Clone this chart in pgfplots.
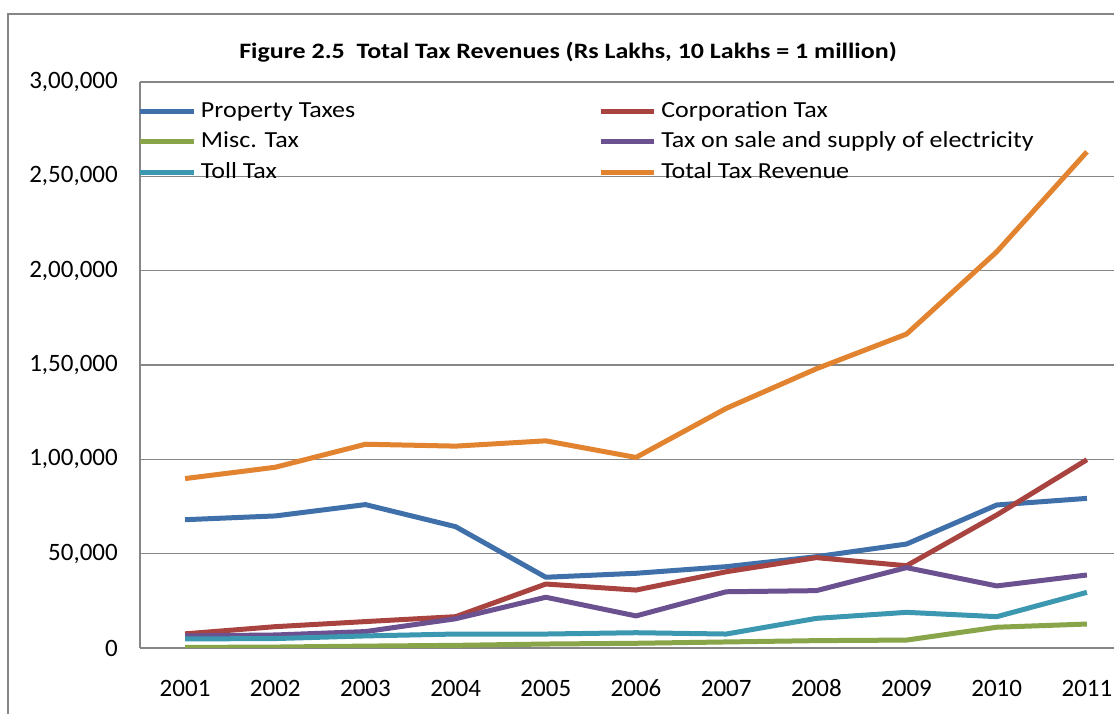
\documentclass[border=0pt]{standalone}
\usepackage{fontspec}
\setmainfont{Carlito}
\newfontfamily\titlefont[FakeStretch=1.18]{Carlito}
\newfontfamily\legfont[FakeStretch=1.13]{Carlito}
\usepackage{pgfplots}
\pgfplotsset{compat=1.18}
\definecolor{cprop}{HTML}{4070AA}
\definecolor{ccorp}{HTML}{A9433F}
\definecolor{cmisc}{HTML}{88A54A}
\definecolor{celec}{HTML}{6C5190}
\definecolor{ctoll}{HTML}{3C97B0}
\definecolor{ctot}{HTML}{E2832F}
\definecolor{cgrid}{HTML}{868686}
\begin{document}
\begin{tikzpicture}
\path[draw=cgrid, line width=2.5pt] (1114pt,700pt) -- (8pt,700pt) -- (8pt,0pt);
\node[font=\titlefont\fontsize{22}{26}\selectfont\bfseries, anchor=base, inner sep=0pt] at (568pt,655pt) {Figure 2.5\ \ Total Tax Revenues (Rs Lakhs, 10 Lakhs = 1 million)};
\begin{axis}[
  at={(140pt,66pt)}, anchor=south west,
  scale only axis, width=992pt, height=566pt,
  xmin=2000.5, xmax=2011.5, ymin=0, ymax=300000,
  axis x line=bottom, axis y line=left,
  axis line style={-, draw=cgrid, line width=1.5pt},
  x axis line style={line width=2.5pt},
  ytick={0,50000,100000,150000,200000,250000,300000},
  yticklabels={0,{50,000},{1,00,000},{1,50,000},{2,00,000},{2,50,000},{3,00,000}},
  xtick={2001,2002,2003,2004,2005,2006,2007,2008,2009,2010,2011},
  xticklabels={2001,2002,2003,2004,2005,2006,2007,2008,2009,2010,2011},
  major tick length=0pt,
  ymajorgrids, grid style={draw=cgrid, line width=1.5pt},
  tick label style={font=\fontsize{25}{29}\selectfont, inner sep=0pt},
  yticklabel style={anchor=east, xshift=-22pt},
  xticklabel style={anchor=base, yshift=-49pt},
  scaled y ticks=false,
  legend columns=2,
  legend image code/.code={\draw[#1] (0pt,0pt) -- (53pt,0pt);},
  legend style={at={(0,1)}, anchor=north west, draw=none, fill=none, inner sep=0pt, outer sep=0pt,
    font=\legfont\fontsize{23}{27}\selectfont, row sep=8.5pt, column sep=5pt,
    nodes={inner sep=0pt, anchor=west, text height=17pt, text depth=5pt},
    /tikz/column 2/.style={column sep=243pt}, yshift=-18.5pt, xshift=-2pt},
  every axis plot/.append style={line width=5pt, no markers, line join=round},
]
\addplot[cprop] coordinates {(2001,68000)(2002,70000)(2003,76000)(2004,64300)(2005,37500)(2006,39600)(2007,43100)(2008,48400)(2009,55100)(2010,75800)(2011,79300)};
\addlegendentry{Property Taxes}
\addplot[ccorp] coordinates {(2001,7500)(2002,11300)(2003,14000)(2004,16600)(2005,33900)(2006,30700)(2007,40400)(2008,47900)(2009,43600)(2010,70500)(2011,99800)};
\addlegendentry{Corporation Tax}
\addplot[cmisc] coordinates {(2001,300)(2002,500)(2003,1000)(2004,1400)(2005,2100)(2006,2500)(2007,3200)(2008,3900)(2009,4200)(2010,11000)(2011,12700)};
\addlegendentry{Misc. Tax}
\addplot[celec] coordinates {(2001,6400)(2002,6900)(2003,8700)(2004,15500)(2005,26900)(2006,17000)(2007,29800)(2008,30400)(2009,42600)(2010,32900)(2011,38700)};
\addlegendentry{Tax on sale and supply of electricity}
\addplot[ctoll] coordinates {(2001,4800)(2002,5000)(2003,6400)(2004,7400)(2005,7400)(2006,8100)(2007,7400)(2008,15700)(2009,18900)(2010,16600)(2011,29500)};
\addlegendentry{Toll Tax}
\addplot[ctot] coordinates {(2001,89800)(2002,95800)(2003,108000)(2004,107000)(2005,109800)(2006,101000)(2007,127000)(2008,148000)(2009,166400)(2010,210000)(2011,263000)};
\addlegendentry{Total Tax Revenue}
\end{axis}
\pgfresetboundingbox
\path[use as bounding box] (0pt,0pt) rectangle (1114pt,714pt);
\end{tikzpicture}
\end{document}
